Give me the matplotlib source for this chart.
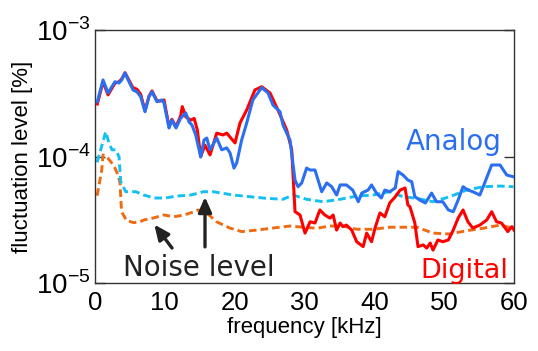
import numpy as np
import matplotlib
matplotlib.use("Agg")
import matplotlib.pyplot as plt
from matplotlib.ticker import FixedLocator, FixedFormatter, NullLocator

plt.rcParams['mathtext.fontset'] = 'custom'
plt.rcParams['mathtext.rm'] = 'Liberation Sans'
plt.rcParams['font.family'] = ['Liberation Sans', 'DejaVu Sans']

# analog signal (blue)
f_analog = [0.33, 1.15, 1.86, 2.86, 3.44, 3.82, 4.30, 4.87, 5.44, 6.01, 6.54, 7.16, 7.73,
            8.16, 8.88, 9.59, 9.88, 10.6, 11.0, 11.6, 12.27, 12.99, 13.46, 13.89, 14.42,
            15.14, 15.61, 16.0, 16.47, 17.43, 18.14, 18.86, 19.33, 19.9, 20.29, 21.0,
            21.72, 22.6, 23.87, 24.77, 25.49, 26.49, 26.92, 27.92, 28.64, 29.07, 29.6,
            30.3, 30.8, 31.5, 32.46, 33.18, 33.9, 34.6, 35.1, 36.0, 36.9, 37.7, 38.2,
            39.1, 39.6, 40.3, 41.0, 41.5, 42.2, 43.0, 43.4, 44.1, 44.8, 45.35, 45.8,
            46.5, 47.3, 48.2, 48.9, 49.8, 50.6, 51.3, 52.0, 52.7, 53.4, 54.1, 55.1,
            55.8, 56.8, 58.0, 58.96, 59.9]
v_analog = [2.71e-4, 4.03e-4, 3.18e-4, 3.90e-4, 3.81e-4, 4.03e-4, 4.57e-4, 3.90e-4, 3.36e-4,
            3.24e-4, 2.97e-4, 2.26e-4, 2.97e-4, 3.25e-4, 2.71e-4, 2.80e-4, 2.65e-4, 1.68e-4,
            1.94e-4, 1.68e-4, 2.01e-4, 2.21e-4, 1.88e-4, 1.77e-4, 1.48e-4, 9.9e-5, 1.35e-4,
            1.40e-4, 1.13e-4, 1.40e-4, 1.13e-4, 1.17e-4, 1.07e-4, 8.1e-5, 8.9e-5, 1.35e-4,
            1.84e-4, 2.80e-4, 3.50e-4, 3.18e-4, 2.55e-4, 2.26e-4, 1.77e-4, 1.35e-4, 6.52e-5,
            5.77e-5, 6.18e-5, 8.1e-5, 7.82e-5, 7.82e-5, 5.27e-5, 6.18e-5, 5.77e-5, 4.96e-5,
            5.96e-5, 5.96e-5, 5.43e-5, 4.39e-5, 5.14e-5, 5.43e-5, 5.96e-5, 5.14e-5, 4.70e-5,
            5.43e-5, 5.27e-5, 5.64e-5, 7.59e-5, 7.14e-5, 6.52e-5, 6.32e-5, 4.81e-5, 4.53e-5,
            4.29e-5, 5.14e-5, 4.39e-5, 4.39e-5, 3.78e-5, 3.66e-5, 4.53e-5, 5.77e-5, 5.43e-5,
            5.27e-5, 4.96e-5, 6.18e-5, 8.57e-5, 8.57e-5, 7.14e-5, 6.92e-5]

# digital signal (red)
f_digital = [0.33, 1.15, 1.86, 2.86, 3.44, 3.82, 4.30, 4.87, 5.44, 6.01, 6.54, 7.16, 7.73,
             8.16, 8.88, 9.59, 9.88, 10.6, 11.0, 11.6, 12.27, 12.5, 13.0, 13.7, 14.2, 14.65,
             15.14, 15.75, 16.47, 17.43, 18.33, 18.86, 20.05, 20.76, 21.72, 22.9, 23.87,
             25.06, 26.2, 27.45, 28.17, 28.64, 29.36, 30.07, 30.8, 31.5, 32.2, 32.9, 33.65,
             34.1, 34.6, 35.1, 35.5, 36.0, 36.76, 37.47, 38.4, 38.9, 39.6, 40.1, 40.8, 41.5,
             42.2, 43.0, 43.7, 44.4, 44.8, 45.1, 45.8, 46.25, 47.0, 47.5, 48.0, 48.4, 49.1,
             49.8, 50.6, 51.3, 52.0, 52.7, 53.4, 54.1, 55.1, 56.1, 56.8, 57.5, 58.2, 58.96,
             59.1, 59.7, 60.0]
v_digital = [2.6e-4, 3.9e-4, 3.07e-4, 3.8e-4, 3.9e-4, 4.1e-4, 4.6e-4, 4.0e-4, 3.5e-4, 3.4e-4,
             3.1e-4, 2.3e-4, 3.0e-4, 3.3e-4, 2.75e-4, 2.75e-4, 2.8e-4, 1.72e-4, 1.97e-4,
             1.72e-4, 2.1e-4, 2.48e-4, 2.06e-4, 1.94e-4, 2.0e-4, 1.62e-4, 1.0e-4, 1.23e-4,
             1.03e-4, 1.53e-4, 1.48e-4, 1.53e-4, 1.28e-4, 1.84e-4, 2.33e-4, 3.36e-4, 3.56e-4,
             3.18e-4, 2.33e-4, 1.62e-4, 1.13e-4, 3.66e-5, 3.45e-5, 2.48e-5, 3.05e-5, 2.98e-5,
             3.78e-5, 3.45e-5, 3.26e-5, 3.45e-5, 2.62e-5, 2.98e-5, 2.79e-5, 2.87e-5, 2.62e-5,
             2.12e-5, 1.94e-5, 2.48e-5, 2.12e-5, 2.72e-5, 3.58e-5, 3.34e-5, 4.29e-5, 4.81e-5,
             5.43e-5, 5.64e-5, 4.14e-5, 4.01e-5, 2.98e-5, 1.94e-5, 2.0e-5, 1.89e-5, 2.07e-5,
             1.82e-5, 2.19e-5, 2.12e-5, 2.19e-5, 2.62e-5, 3.26e-5, 3.78e-5, 3.05e-5, 2.72e-5,
             2.87e-5, 3.15e-5, 3.66e-5, 3.05e-5, 2.98e-5, 2.62e-5, 2.55e-5, 2.79e-5, 2.62e-5]

# analog noise level (cyan dashed)
f_noise_a = [0.3, 1.0, 1.53, 2.0, 2.43, 2.96, 3.44, 3.68, 4.4, 5.83, 7.0, 8.45, 10.1, 11.7,
             13.7, 15.1, 15.5, 16.9, 19.8, 22.2, 24.6, 26.9, 28.35, 30.3, 32.65, 35.1, 37.5,
             39.8, 42.2, 44.1, 46.1, 48.4, 50.8, 53.2, 55.6, 58.0, 59.9]
v_noise_a = [9.0e-5, 1.23e-4, 1.57e-4, 1.28e-4, 1.13e-4, 1.13e-4, 9.96e-5, 6.32e-5, 5.27e-5,
             5.27e-5, 4.96e-5, 4.70e-5, 4.70e-5, 4.87e-5, 4.96e-5, 5.18e-5, 5.27e-5, 5.27e-5,
             4.96e-5, 4.81e-5, 4.67e-5, 4.59e-5, 4.96e-5, 4.59e-5, 4.39e-5, 4.59e-5, 4.87e-5,
             4.96e-5, 5.27e-5, 4.81e-5, 4.67e-5, 4.39e-5, 4.81e-5, 5.43e-5, 5.77e-5, 5.84e-5,
             5.77e-5]

# digital noise level (orange dashed)
f_noise_d = [0.3, 0.96, 1.15, 1.68, 2.39, 2.86, 3.3, 3.58, 3.8, 4.54, 5.58, 6.44, 7.0, 8.3,
             9.88, 11.3, 12.75, 14.2, 14.75, 16.0, 17.4, 19.3, 21.0, 23.15, 25.5, 27.9, 29.8,
             31.75, 33.65, 35.5, 37.5, 39.8, 42.2, 44.6, 46.1, 48.4, 50.8, 53.2, 55.6, 58.0,
             59.9]
v_noise_d = [4.9e-5, 7.82e-5, 1.03e-4, 9.96e-5, 8.9e-5, 8.1e-5, 7.14e-5, 6.18e-5, 3.66e-5,
             3.11e-5, 3.0e-5, 3.05e-5, 3.15e-5, 3.26e-5, 3.45e-5, 3.34e-5, 3.45e-5, 3.66e-5,
             3.78e-5, 3.58e-5, 3.05e-5, 2.72e-5, 2.55e-5, 2.62e-5, 2.72e-5, 2.82e-5, 2.76e-5,
             2.71e-5, 2.82e-5, 2.82e-5, 2.66e-5, 2.66e-5, 2.76e-5, 2.76e-5, 2.76e-5, 2.48e-5,
             2.44e-5, 2.59e-5, 2.71e-5, 2.87e-5, 2.71e-5]

x_ticks = [0, 10, 20, 30, 40, 50, 60]
y_ticks = [1e-5, 1e-4, 1e-3]
y_ticklabels = ['$10^{-5}$', '$10^{-4}$', '$10^{-3}$']

blue = '#2a6ff2'
red = '#ff0000'
cyan = '#12c0f2'
orange = '#f06a12'

fig = plt.figure(figsize=(5.38, 3.51), dpi=100)
ax = fig.add_axes([0.1766, 0.1937, 0.7788, 0.7208])

l1, = ax.plot(f_noise_d, v_noise_d, color=orange, lw=2.1, zorder=2)
l1.set_dashes([2.6, 1.4])
l2, = ax.plot(f_noise_a, v_noise_a, color=cyan, lw=2.1, zorder=2)
l2.set_dashes([2.6, 1.4])
ax.plot(f_digital, v_digital, color=red, lw=2.2, zorder=3)
ax.plot(f_analog, v_analog, color=blue, lw=2.2, zorder=4)

ax.set_yscale('log')
ax.set_xlim(0, 60)
ax.set_ylim(1e-5, 1e-3)
ax.xaxis.set_major_locator(FixedLocator(x_ticks))
ax.yaxis.set_major_locator(FixedLocator(y_ticks))
ax.yaxis.set_major_formatter(FixedFormatter(y_ticklabels))
ax.yaxis.set_minor_locator(NullLocator())
ax.tick_params(axis='y', direction='in', length=7, width=1, labelsize=20,
               right=True, pad=3, color='#333333')
ax.tick_params(axis='x', direction='in', length=0, labelsize=18.5, pad=6)
for s in ax.spines.values():
    s.set_color('#333333')
    s.set_linewidth(1)

ax.set_xlabel('frequency [kHz]', fontsize=16, labelpad=1)
ax.set_ylabel('fluctuation level [%]', fontsize=16, labelpad=2)

ax.text(0.971, 0.526, 'Analog', transform=ax.transAxes, ha='right', va='baseline',
        fontsize=20, color=blue, family='DejaVu Sans')
ax.text(0.986, 0.02, 'Digital', transform=ax.transAxes, ha='right', va='baseline',
        fontsize=19.5, color=red, family='DejaVu Sans')
ax.text(0.067, 0.028, 'Noise level', transform=ax.transAxes, ha='left', va='baseline',
        fontsize=20, color='#222222', family='DejaVu Sans')

arrow = dict(arrowstyle='-|>,head_length=0.9,head_width=0.4', color='#222222', lw=2.4,
             shrinkA=0, shrinkB=0)
ax.annotate('', xy=(15.75, 4.79e-5), xytext=(15.75, 1.93e-5), arrowprops=arrow, zorder=5)
ax.annotate('', xy=(8.49, 2.90e-5), xytext=(11.03, 1.89e-5), arrowprops=arrow, zorder=5)

fig.savefig('out.png', dpi=100)
